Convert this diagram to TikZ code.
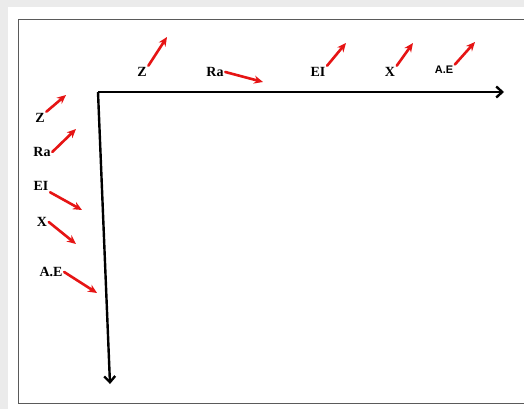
\documentclass[tikz,border=0pt]{standalone}
\usepackage{fontspec}
\setmainfont{Liberation Serif}
\setsansfont{Liberation Sans}
\usetikzlibrary{arrows.meta, positioning}
\definecolor{PageGray}{RGB}{235,235,235}
\definecolor{FrameGray}{RGB}{90,90,90}
\definecolor{ArrowRed}{RGB}{230,20,20}

\begin{document}
\begin{tikzpicture}[
  x=1pt, y=-1pt,
  lbl/.style={inner sep=1.5pt, font=\fontsize{14}{16}\selectfont\bfseries},
  lblsans/.style={lbl, font=\fontsize{11}{13}\selectfont\sffamily\bfseries},
  axis/.style={-{Straight Barb[length=6pt, width=11pt]}, line width=2.4pt, black},
  trend/.style={-{Stealth[length=9pt, width=8pt]}, line width=2.6pt, ArrowRed,
                line cap=round},
]
  \useasboundingbox (0,0) rectangle (524,409);
  \fill[PageGray] (0,0) rectangle (524,409);
  \fill[white] (8,7) rectangle (524,409);
  \draw[FrameGray, line width=1pt] (524,20) -- (18,20) -- (18,403) -- (524,403);

  \coordinate (origin) at (98,92);
  \coordinate (xend) at (504,92);
  \coordinate (yend) at (110,384);
  \draw[axis] (origin) -- (xend);
  \draw[axis] (origin) -- (yend);

  \node[lbl] (tz) at (142,72) {Z};
  \node[lbl] (tra) at (215,72) {Ra};
  \node[lbl] (tei) at (318,72) {EI};
  \node[lbl] (tx) at (390,72) {X};
  \node[lblsans] (tae) at (444,70) {A.E};

  \node[lbl] (lz) at (40,118) {Z};
  \node[lbl] (lra) at (42,152) {Ra};
  \node[lbl] (lei) at (41,186) {EI};
  \node[lbl] (lx) at (42,222) {X};
  \node[lbl] (lae) at (51,272) {A.E};

  \coordinate (tz-tip) at (167,37);
  \coordinate (tra-tip) at (263,82);
  \coordinate (tei-tip) at (346,43);
  \coordinate (tx-tip) at (413,43);
  \coordinate (tae-tip) at (475,42);
  \coordinate (lz-tip) at (66,95);
  \coordinate (lra-tip) at (76,129);
  \coordinate (lei-tip) at (82,210);
  \coordinate (lx-tip) at (76,244);
  \coordinate (lae-tip) at (97,293);

  \draw[trend] (tz.north east) -- (tz-tip);
  \draw[trend] (tra.east) -- (tra-tip);
  \draw[trend] (tei.north east) -- (tei-tip);
  \draw[trend] (tx.north east) -- (tx-tip);
  \draw[trend] (tae.north east) -- (tae-tip);
  \draw[trend] (lz.north east) -- (lz-tip);
  \draw[trend] (lra.east) -- (lra-tip);
  \draw[trend] (lei.south east) -- (lei-tip);
  \draw[trend] (lx.east) -- (lx-tip);
  \draw[trend] (lae.east) -- (lae-tip);
\end{tikzpicture}
\end{document}
